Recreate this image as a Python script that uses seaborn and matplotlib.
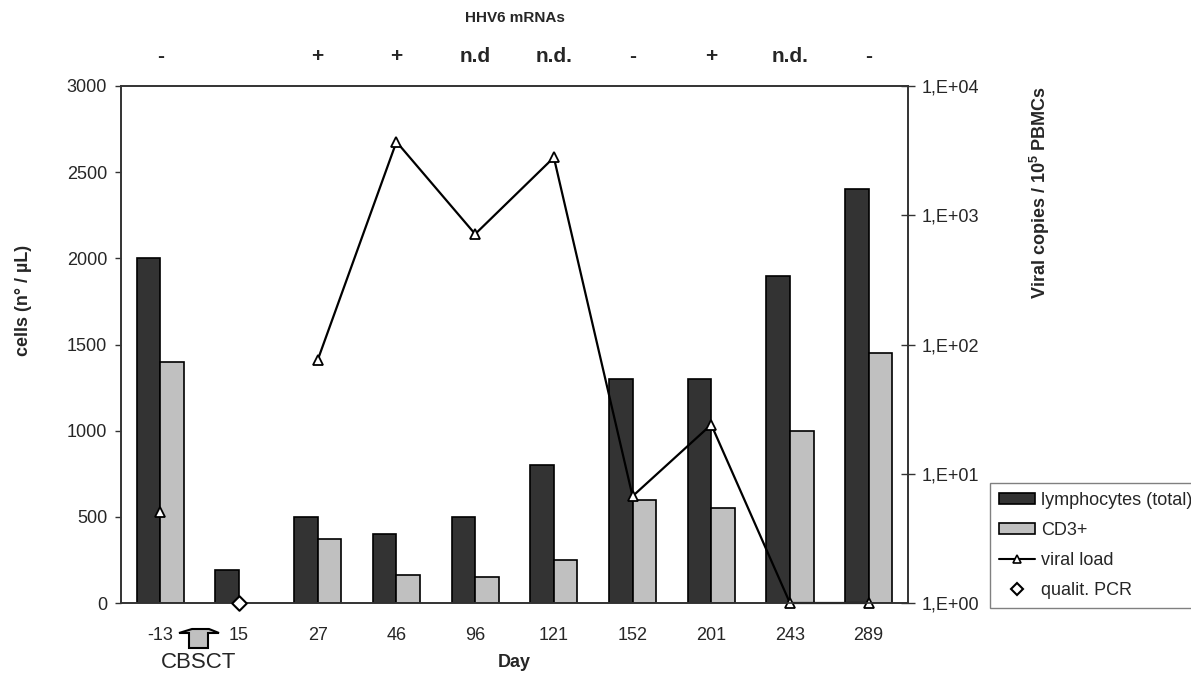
import numpy as np
import pandas as pd
import matplotlib
matplotlib.use("Agg")
import matplotlib.pyplot as plt
import matplotlib.transforms as mtransforms
from matplotlib.patches import Patch, Polygon
from matplotlib.lines import Line2D
import seaborn as sns

# ---------------- data ----------------
days = ["-13", "15", "27", "46", "96", "121", "152", "201", "243", "289"]
lymphocytes_total = [2000, 190, 500, 400, 500, 800, 1300, 1300, 1900, 2400]
cd3_plus = [1400, np.nan, 370, 160, 150, 250, 600, 550, 1000, 1450]
viral_load = [5.1, np.nan, 76, 3700, 715, 2800, 6.7, 24, 1, 1]
qualit_pcr = [np.nan, 1, np.nan, np.nan, np.nan, np.nan, np.nan, np.nan, np.nan, np.nan]
hhv6_mrna = ["-", "", "+", "+", "n.d", "n.d.", "-", "+", "n.d.", "-"]
left_ticks = [0, 500, 1000, 1500, 2000, 2500, 3000]
right_ticks = [1, 10, 100, 1000, 10000]
right_tick_labels = ["1,E+00", "1,E+01", "1,E+02", "1,E+03", "1,E+04"]
series_names = ["lymphocytes (total)", "CD3+"]

# ---------------- style ----------------
sns.set_theme(style="white")
plt.rcParams["font.family"] = ["Liberation Sans", "DejaVu Sans"]
plt.rcParams["mathtext.fontset"] = "custom"
plt.rcParams["mathtext.rm"] = "Liberation Sans"
plt.rcParams["mathtext.bf"] = "Liberation Sans:bold"

W, H = 1191, 677
fig = plt.figure(figsize=(W / 100, H / 100), dpi=100)
L, R, T, B = 121, 908, 86, 603
ax = fig.add_axes([L / W, 1 - B / H, (R - L) / W, (B - T) / H])

def fx(px):
    return px / W

def fy(py):
    return 1 - py / H

DARK = "#333333"
LIGHT = "#c0c0c0"
TXT = 13

bar_df = pd.DataFrame({
    "Day": days * 2,
    "cells": lymphocytes_total + cd3_plus,
    "series": [series_names[0]] * len(days) + [series_names[1]] * len(days),
})
sns.barplot(data=bar_df, x="Day", y="cells", hue="series", order=days,
            hue_order=series_names, palette=[DARK, LIGHT], saturation=1,
            width=0.6, edgecolor="black", linewidth=1.2, errorbar=None,
            legend=False, ax=ax)

ax.set_xlim(-0.5, len(days) - 0.5)
ax.set_ylim(0, 3000)
ax.set_yticks(left_ticks)
ax.set_yticklabels([str(t) for t in left_ticks], fontsize=TXT)
ax.tick_params(axis="y", direction="out", length=4.5, width=1, color="#333333", pad=5.5)
ax.set_xticks(range(len(days)))
ax.set_xticklabels(days, fontsize=TXT)
ax.set_xticks(np.arange(-0.5, len(days), 1.0), minor=True)
ax.tick_params(axis="x", which="major", length=0, pad=17)
ax.tick_params(axis="x", which="minor", direction="inout", length=9, width=1, color="#333333")
ax.set_xlabel("Day", fontsize=TXT, fontweight="bold")
ax.xaxis.set_label_coords(0.5, (B - 654) / (B - T))
ax.set_ylabel("cells (n° / µL)", fontsize=TXT, fontweight="bold")
ax.yaxis.set_label_coords((32 - L) / (R - L), (B - 300) / (B - T))
for sp in ax.spines.values():
    sp.set_color("#333333")
    sp.set_linewidth(1.2)

# ---------------- secondary axis ----------------
ax2 = ax.twinx()
ax2.set_yscale("log")
ax2.set_ylim(1, 10000)
pos = np.arange(len(days))
vl = np.array(viral_load, dtype=float)
segment = np.cumsum(np.isnan(vl))
line_df = pd.DataFrame({"pos": pos, "viral": vl, "seg": segment})
sns.lineplot(data=line_df, x="pos", y="viral", units="seg", estimator=None,
             color="black", linewidth=1.6, marker="^", markersize=7,
             markerfacecolor="white", markeredgecolor="black", markeredgewidth=1.3,
             clip_on=False, ax=ax2, legend=False)
pcr_df = pd.DataFrame({"pos": pos, "pcr": qualit_pcr})
sns.scatterplot(data=pcr_df, x="pos", y="pcr", marker="D", s=55, color="white",
                edgecolor="black", linewidth=1.5, clip_on=False, zorder=6,
                ax=ax2, legend=False)
ax2.set_xlim(-0.5, len(days) - 0.5)
ax2.set_yticks(right_ticks)
ax2.set_yticklabels(right_tick_labels, fontsize=TXT)
ax2.minorticks_off()
ax2.tick_params(axis="y", which="major", direction="inout", length=10, width=1,
                color="#333333", pad=5)
ax2.set_ylabel("")
ax2.set_xlabel("")
for sp in ax2.spines.values():
    sp.set_color("#333333")
    sp.set_linewidth(1.2)
ax2.grid(False)
ax.grid(False)

fig.text(fx(1040), fy(192), r"Viral copies / 10$^{\mathbf{5}}$ PBMCs", rotation=90,
         ha="center", va="center", fontsize=13, fontweight="bold")

# ---------------- top annotations ----------------
fig.text(fx((L + R) / 2), fy(18), "HHV6 mRNAs", ha="center", va="center",
         fontsize=11, fontweight="bold")
trans = mtransforms.blended_transform_factory(ax.transData, fig.transFigure)
for i, lab in enumerate(hhv6_mrna):
    if lab:
        ax.text(i, fy(57), lab, transform=trans, ha="center", va="center",
                fontsize=15, fontweight="bold")

# ---------------- CBSCT arrow ----------------
arrow_px = [(179, 633), (192, 629), (209, 629), (219, 633), (208, 633),
            (208, 648), (189, 648), (189, 633)]
arrow = Polygon([(fx(x), fy(y)) for x, y in arrow_px], closed=True,
                transform=fig.transFigure, facecolor=LIGHT, edgecolor="black",
                linewidth=1.5)
fig.patches.append(arrow)
fig.text(fx(199), fy(663), "CBSCT", ha="center", va="center", fontsize=16)

# ---------------- legend ----------------
handles = [
    Patch(facecolor=DARK, edgecolor="black", linewidth=1.2),
    Patch(facecolor=LIGHT, edgecolor="black", linewidth=1.2),
    Line2D([], [], color="black", linewidth=1.5, marker="^", markersize=6,
           markerfacecolor="white", markeredgecolor="black", markeredgewidth=1.2),
    Line2D([], [], linestyle="none", marker="D", markersize=6,
           markerfacecolor="white", markeredgecolor="black", markeredgewidth=1.5),
]
labels = series_names + ["viral load", "qualit. PCR"]
leg = fig.legend(handles, labels, loc="upper left", bbox_to_anchor=(fx(990), fy(483)),
                 frameon=True, fancybox=False, edgecolor="#808080", framealpha=1,
                 fontsize=TXT, handlelength=2.0, handleheight=0.52, handletextpad=0.33,
                 labelspacing=0.72, borderpad=0.5, borderaxespad=0)
leg.get_frame().set_linewidth(1.0)

fig.savefig("out.png", dpi=100)
